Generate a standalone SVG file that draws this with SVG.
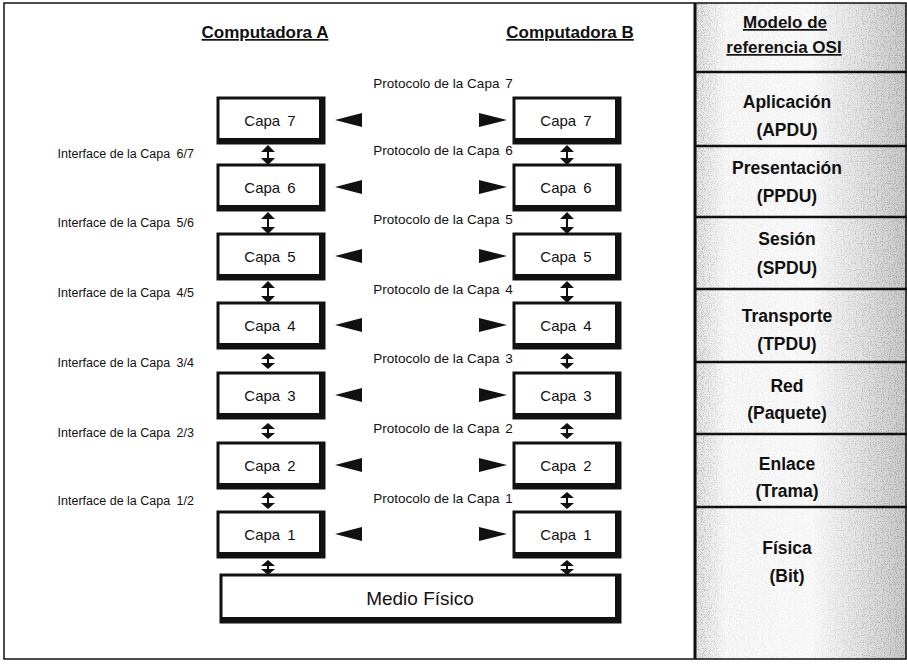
<svg xmlns="http://www.w3.org/2000/svg" width="907" height="664" viewBox="0 0 907 664">
  <style>
    .frame { fill: none; stroke: #111; stroke-width: 1.5; }
    .divider { stroke: #111; stroke-width: 3; }
    .rowline { stroke: #111; stroke-width: 2.5; }
    .box { fill: #fff; stroke: #111; stroke-width: 3; }
    .shade { fill: none; stroke: #111; stroke-width: 6; stroke-linejoin: miter; }
    .head { font-family: "Liberation Sans", Arial, sans-serif; font-size: 17px; font-weight: bold; fill: #111; text-anchor: middle; text-decoration: underline; }
    .osi { font-family: "Liberation Sans", Arial, sans-serif; font-size: 17.5px; font-weight: bold; fill: #111; text-anchor: middle; }
    .cap { font-family: "Liberation Sans", Arial, sans-serif; font-size: 15px; fill: #111; text-anchor: middle; }
    .medio { font-family: "Liberation Sans", Arial, sans-serif; font-size: 19px; fill: #111; text-anchor: middle; }
    .lbl { font-family: "Liberation Sans", Arial, sans-serif; fill: #111; }
    .proto { font-size: 13.5px; text-anchor: middle; }
    .iface { font-size: 12.5px; text-anchor: end; }
    .tri { fill: #111; }
    .stem { stroke: #111; stroke-width: 2; }
  </style>
  <defs>
    <!-- light base tone of the OSI column, darker toward both edges -->
    <linearGradient id="panelTone" x1="0" y1="0" x2="1" y2="0">
      <stop offset="0" stop-color="#e2e2e2"/>
      <stop offset="0.14" stop-color="#f7f7f7"/>
      <stop offset="0.55" stop-color="#f9f9f9"/>
      <stop offset="0.8" stop-color="#e0e0e0"/>
      <stop offset="1" stop-color="#c8c8c8"/>
    </linearGradient>
    <!-- how dense the printed dot screen is across the column -->
    <linearGradient id="grainDensity" x1="0" y1="0" x2="1" y2="0">
      <stop offset="0" stop-color="#000" stop-opacity="0.85"/>
      <stop offset="0.14" stop-color="#000" stop-opacity="0.2"/>
      <stop offset="0.55" stop-color="#000" stop-opacity="0.12"/>
      <stop offset="0.8" stop-color="#000" stop-opacity="0.6"/>
      <stop offset="1" stop-color="#000" stop-opacity="0.9"/>
    </linearGradient>
    <filter id="grain" x="0" y="0" width="1" height="1">
      <feTurbulence type="fractalNoise" baseFrequency="0.85" numOctaves="1" seed="4" result="n"/>
      <feColorMatrix in="n" type="matrix" values="0 0 0 0 0.25  0 0 0 0 0.25  0 0 0 0 0.25  0 0 0 7 -3.6" result="dots"/>
      <feComposite in="dots" in2="SourceGraphic" operator="in"/>
    </filter>
  </defs>

  <!-- page background -->
  <rect x="0" y="0" width="907" height="664" fill="#fff"/>

  <!-- OSI reference column -->
  <g id="osi-panel">
    <rect x="696" y="3" width="211" height="656" fill="url(#panelTone)"/>
    <rect x="696" y="3" width="211" height="656" fill="url(#grainDensity)" opacity="0.6" filter="url(#grain)"/>
    <line class="rowline" x1="696" y1="72" x2="907" y2="72"/>
    <line class="rowline" x1="696" y1="146" x2="907" y2="146"/>
    <line class="rowline" x1="696" y1="217" x2="907" y2="217"/>
    <line class="rowline" x1="696" y1="289" x2="907" y2="289"/>
    <line class="rowline" x1="696" y1="362" x2="907" y2="362"/>
    <line class="rowline" x1="696" y1="434" x2="907" y2="434"/>
    <line class="rowline" x1="696" y1="507" x2="907" y2="507"/>
    <text class="head" x="785" y="28">Modelo de</text>
    <text class="head" x="784" y="53">referencia OSI</text>
    <text class="osi" x="787" y="108">Aplicación</text>
    <text class="osi" x="787" y="136">(APDU)</text>
    <text class="osi" x="787" y="174">Presentación</text>
    <text class="osi" x="787" y="202">(PPDU)</text>
    <text class="osi" x="787" y="245">Sesión</text>
    <text class="osi" x="787" y="274">(SPDU)</text>
    <text class="osi" x="787" y="322">Transporte</text>
    <text class="osi" x="787" y="350">(TPDU)</text>
    <text class="osi" x="787" y="392">Red</text>
    <text class="osi" x="787" y="419">(Paquete)</text>
    <text class="osi" x="787" y="470">Enlace</text>
    <text class="osi" x="787" y="497">(Trama)</text>
    <text class="osi" x="787" y="554">Física</text>
    <text class="osi" x="787" y="582">(Bit)</text>
  </g>

  <rect class="frame" x="4" y="3" width="902" height="656"/>
  <line class="divider" x1="695" y1="3" x2="695" y2="659"/>

  <!-- column headings -->
  <text id="title-a" class="head" x="265" y="38">Computadora A</text>
  <text id="title-b" class="head" x="570" y="38">Computadora B</text>

  <!-- Computer A layers -->
  <g id="a-capa7"><rect class="box" x="218" y="98" width="106" height="45"/><path class="shade" d="M322 99 V141 H219"/><text class="cap" x="270" y="126">Capa <tspan dx="3">7</tspan></text></g>
  <g id="a-capa6"><rect class="box" x="218" y="165" width="106" height="45"/><path class="shade" d="M322 166 V208 H219"/><text class="cap" x="270" y="193">Capa <tspan dx="3">6</tspan></text></g>
  <g id="a-capa5"><rect class="box" x="218" y="234" width="106" height="45"/><path class="shade" d="M322 235 V277 H219"/><text class="cap" x="270" y="262">Capa <tspan dx="3">5</tspan></text></g>
  <g id="a-capa4"><rect class="box" x="218" y="303" width="106" height="45"/><path class="shade" d="M322 304 V346 H219"/><text class="cap" x="270" y="331">Capa <tspan dx="3">4</tspan></text></g>
  <g id="a-capa3"><rect class="box" x="218" y="373" width="106" height="45"/><path class="shade" d="M322 374 V416 H219"/><text class="cap" x="270" y="401">Capa <tspan dx="3">3</tspan></text></g>
  <g id="a-capa2"><rect class="box" x="218" y="443" width="106" height="45"/><path class="shade" d="M322 444 V486 H219"/><text class="cap" x="270" y="471">Capa <tspan dx="3">2</tspan></text></g>
  <g id="a-capa1"><rect class="box" x="218" y="512" width="106" height="45"/><path class="shade" d="M322 513 V555 H219"/><text class="cap" x="270" y="540">Capa <tspan dx="3">1</tspan></text></g>

  <!-- Computer B layers -->
  <g id="b-capa7"><rect class="box" x="514" y="98" width="106" height="45"/><path class="shade" d="M618 99 V141 H515"/><text class="cap" x="566" y="126">Capa <tspan dx="3">7</tspan></text></g>
  <g id="b-capa6"><rect class="box" x="514" y="165" width="106" height="45"/><path class="shade" d="M618 166 V208 H515"/><text class="cap" x="566" y="193">Capa <tspan dx="3">6</tspan></text></g>
  <g id="b-capa5"><rect class="box" x="514" y="234" width="106" height="45"/><path class="shade" d="M618 235 V277 H515"/><text class="cap" x="566" y="262">Capa <tspan dx="3">5</tspan></text></g>
  <g id="b-capa4"><rect class="box" x="514" y="303" width="106" height="45"/><path class="shade" d="M618 304 V346 H515"/><text class="cap" x="566" y="331">Capa <tspan dx="3">4</tspan></text></g>
  <g id="b-capa3"><rect class="box" x="514" y="373" width="106" height="45"/><path class="shade" d="M618 374 V416 H515"/><text class="cap" x="566" y="401">Capa <tspan dx="3">3</tspan></text></g>
  <g id="b-capa2"><rect class="box" x="514" y="443" width="106" height="45"/><path class="shade" d="M618 444 V486 H515"/><text class="cap" x="566" y="471">Capa <tspan dx="3">2</tspan></text></g>
  <g id="b-capa1"><rect class="box" x="514" y="512" width="106" height="45"/><path class="shade" d="M618 513 V555 H515"/><text class="cap" x="566" y="540">Capa <tspan dx="3">1</tspan></text></g>

  <!-- shared physical medium -->
  <g id="medio-fisico"><rect class="box" x="221" y="575" width="399" height="47"/><path class="shade" d="M618 576 V620 H222"/><text class="medio" x="420" y="605">Medio Físico</text></g>

  <!-- connectors: interfaces (vertical) and peer protocols (horizontal) -->
  <g id="connectors">
    <!-- vertical double arrows, computer A -->
    <g>
      <path class="tri" d="M261 152 L268 145 L275 152 Z M261 158 L268 165 L275 158 Z"/><line class="stem" x1="268" y1="150" x2="268" y2="160"/>
      <path class="tri" d="M261 219 L268 212 L275 219 Z M261 227 L268 234 L275 227 Z"/><line class="stem" x1="268" y1="217" x2="268" y2="229"/>
      <path class="tri" d="M261 288 L268 281 L275 288 Z M261 296 L268 303 L275 296 Z"/><line class="stem" x1="268" y1="286" x2="268" y2="298"/>
      <path class="tri" d="M261 359 L268 353 L275 359 Z M261 363 L268 369 L275 363 Z"/><line class="stem" x1="268" y1="357" x2="268" y2="365"/>
      <path class="tri" d="M261 429 L268 423 L275 429 Z M261 433 L268 439 L275 433 Z"/><line class="stem" x1="268" y1="427" x2="268" y2="435"/>
      <path class="tri" d="M261 498 L268 492 L275 498 Z M261 503 L268 509 L275 503 Z"/><line class="stem" x1="268" y1="496" x2="268" y2="505"/>
      <path class="tri" d="M261 566 L268 560 L275 566 Z M261 569 L268 575 L275 569 Z"/><line class="stem" x1="268" y1="564" x2="268" y2="571"/>
    </g>
    <!-- vertical double arrows, computer B -->
    <g>
      <path class="tri" d="M560 152 L567 145 L574 152 Z M560 158 L567 165 L574 158 Z"/><line class="stem" x1="567" y1="150" x2="567" y2="160"/>
      <path class="tri" d="M560 219 L567 212 L574 219 Z M560 227 L567 234 L574 227 Z"/><line class="stem" x1="567" y1="217" x2="567" y2="229"/>
      <path class="tri" d="M560 288 L567 281 L574 288 Z M560 296 L567 303 L574 296 Z"/><line class="stem" x1="567" y1="286" x2="567" y2="298"/>
      <path class="tri" d="M560 359 L567 353 L574 359 Z M560 363 L567 369 L574 363 Z"/><line class="stem" x1="567" y1="357" x2="567" y2="365"/>
      <path class="tri" d="M560 429 L567 423 L574 429 Z M560 433 L567 439 L574 433 Z"/><line class="stem" x1="567" y1="427" x2="567" y2="435"/>
      <path class="tri" d="M560 498 L567 492 L574 498 Z M560 503 L567 509 L574 503 Z"/><line class="stem" x1="567" y1="496" x2="567" y2="505"/>
      <path class="tri" d="M560 566 L567 560 L574 566 Z M560 569 L567 575 L574 569 Z"/><line class="stem" x1="567" y1="564" x2="567" y2="571"/>
    </g>
    <!-- peer protocol arrowheads -->
    <g>
      <path class="tri" d="M335 120 L362 113 L362 127 Z M507 120 L479 113 L479 127 Z"/>
      <path class="tri" d="M335 187 L362 180 L362 194 Z M507 187 L479 180 L479 194 Z"/>
      <path class="tri" d="M335 256 L362 249 L362 263 Z M507 256 L479 249 L479 263 Z"/>
      <path class="tri" d="M335 325 L362 318 L362 332 Z M507 325 L479 318 L479 332 Z"/>
      <path class="tri" d="M335 395 L362 388 L362 402 Z M507 395 L479 388 L479 402 Z"/>
      <path class="tri" d="M335 465 L362 458 L362 472 Z M507 465 L479 458 L479 472 Z"/>
      <path class="tri" d="M335 534 L362 527 L362 541 Z M507 534 L479 527 L479 541 Z"/>
    </g>
  </g>

  <!-- protocol labels -->
  <g id="protocol-labels">
    <text class="lbl proto" x="443" y="88">Protocolo de la Capa <tspan dx="2">7</tspan></text>
    <text class="lbl proto" x="443" y="155">Protocolo de la Capa <tspan dx="2">6</tspan></text>
    <text class="lbl proto" x="443" y="224">Protocolo de la Capa <tspan dx="2">5</tspan></text>
    <text class="lbl proto" x="443" y="294">Protocolo de la Capa <tspan dx="2">4</tspan></text>
    <text class="lbl proto" x="443" y="363">Protocolo de la Capa <tspan dx="2">3</tspan></text>
    <text class="lbl proto" x="443" y="433">Protocolo de la Capa <tspan dx="2">2</tspan></text>
    <text class="lbl proto" x="443" y="503">Protocolo de la Capa <tspan dx="2">1</tspan></text>
  </g>

  <!-- interface labels -->
  <g id="interface-labels">
    <text class="lbl iface" x="194" y="158">Interface de la Capa <tspan dx="3">6/7</tspan></text>
    <text class="lbl iface" x="194" y="227">Interface de la Capa <tspan dx="3">5/6</tspan></text>
    <text class="lbl iface" x="194" y="297">Interface de la Capa <tspan dx="3">4/5</tspan></text>
    <text class="lbl iface" x="194" y="367">Interface de la Capa <tspan dx="3">3/4</tspan></text>
    <text class="lbl iface" x="194" y="437">Interface de la Capa <tspan dx="3">2/3</tspan></text>
    <text class="lbl iface" x="194" y="505">Interface de la Capa <tspan dx="3">1/2</tspan></text>
  </g>
</svg>
